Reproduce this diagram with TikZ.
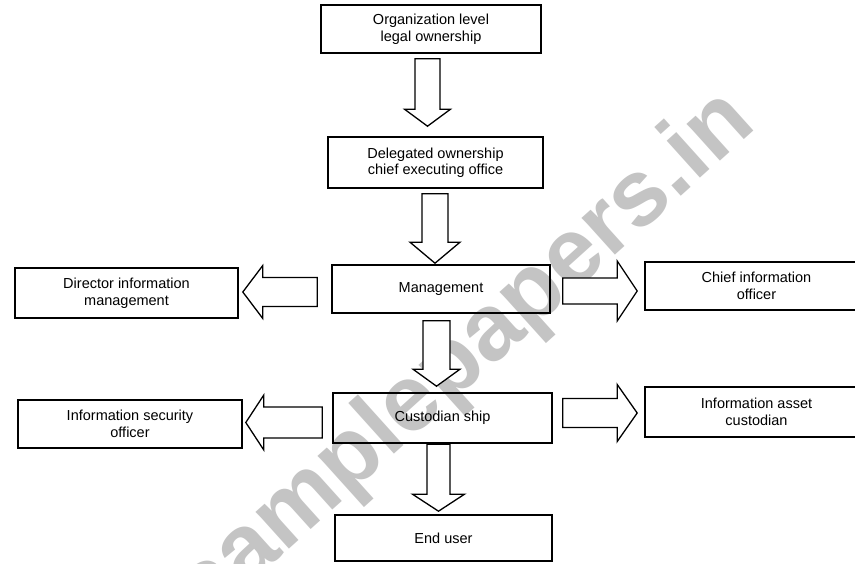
\documentclass[tikz,border=0pt]{standalone}
\usepackage{fontspec}
\setmainfont{Liberation Sans}
\usetikzlibrary{calc}
\definecolor{wmgray}{RGB}{196,196,196}
\tikzset{
  box/.style={draw, line width=1.6pt, inner sep=2pt, align=center,
    font=\fontsize{14.5}{16.5}\selectfont},
  blk/.style={draw, line width=1.3pt, fill=white, line join=miter},
  wmark/.style={text=wmgray, font=\fontsize{94}{94}\selectfont\bfseries, inner sep=0pt}
}
% #1 start, #2 end, #3 start gap, #4 tip gap, #5 head-base distance from end, #6 shaft half, #7 head half
\newcommand\blkarrow[7]{%
  \draw[blk] ($(#1)!#3!(#2)!#6!90:(#2)$) -- ($(#2)!#5!(#1)!#6!-90:(#1)$)
    -- ($(#2)!#5!(#1)!#7!-90:(#1)$) -- ($(#2)!#4!(#1)$)
    -- ($(#2)!#5!(#1)!#7!90:(#1)$) -- ($(#2)!#5!(#1)!#6!90:(#1)$)
    -- ($(#1)!#3!(#2)!#6!-90:(#2)$) -- cycle;}
\begin{document}
\begin{tikzpicture}[x=1pt,y=-1pt]
\clip (0,0) rectangle (855,563);
\fill[white] (0,0) rectangle (855,563);
\node[wmark, rotate=42] (wm) at (466,357) {samplepapers.in};

\node[box, minimum width=220pt, minimum height=48pt] (org) at (431,29) {Organization level\\legal ownership};
\node[box, minimum width=215pt, minimum height=51pt] (del) at (435.5,162.5) {Delegated ownership\\chief executing office};
\node[box, minimum width=218pt, minimum height=48pt] (mgmt) at (441,289) {Management};
\node[box, minimum width=219pt, minimum height=50pt] (cust) at (442.5,418) {Custodian ship};
\node[box, minimum width=217pt, minimum height=46pt] (end) at (443.5,538) {End user};
\node[box, minimum width=223pt, minimum height=50pt] (dir) at (126.5,293) {Director information\\management};
\node[box, minimum width=224pt, minimum height=48pt] (iso) at (130,424) {Information security\\officer};
\node[box, minimum width=223pt, minimum height=48pt] (cio) at (756.5,286) {Chief information\\officer};
\node[box, minimum width=223pt, minimum height=50pt] (iac) at (756.5,412) {Information asset\\custodian};

\coordinate (a1s) at ($(org.south)+(-3.5,0)$);
\coordinate (a1e) at (a1s |- del.north);
\coordinate (a2s) at ($(del.south)+(-0.5,0)$);
\coordinate (a2e) at (a2s |- mgmt.north);
\coordinate (a3s) at ($(mgmt.south)+(-4.5,0)$);
\coordinate (a3e) at (a3s |- cust.north);
\coordinate (a4s) at ($(cust.south)+(-4,0)$);
\coordinate (a4e) at (a4s |- end.north);
\coordinate (l1s) at ($(mgmt.west)+(0,3)$);
\coordinate (l1e) at (l1s -| dir.east);
\coordinate (l2s) at ($(cust.west)+(0,4.5)$);
\coordinate (l2e) at (l2s -| iso.east);
\coordinate (r1s) at ($(mgmt.east)+(0,2)$);
\coordinate (r1e) at (r1s -| cio.west);
\coordinate (r2s) at ($(cust.east)+(0,-5)$);
\coordinate (r2e) at (r2s -| iac.west);

\blkarrow{a1s}{a1e}{5pt}{10pt}{27pt}{12.5pt}{23pt}
\blkarrow{a2s}{a2e}{5pt}{1pt}{22pt}{13pt}{25pt}
\blkarrow{a3s}{a3e}{7pt}{6pt}{23pt}{13.5pt}{23.5pt}
\blkarrow{a4s}{a4e}{0.5pt}{3pt}{20pt}{11.5pt}{26pt}
\blkarrow{l1s}{l1e}{14pt}{4pt}{24pt}{14.5pt}{26.5pt}
\blkarrow{l2s}{l2e}{10pt}{3pt}{21pt}{15.5pt}{27.5pt}
\blkarrow{r1s}{r1e}{12pt}{7pt}{27pt}{13pt}{30pt}
\blkarrow{r2s}{r2e}{10pt}{7pt}{27pt}{14.5pt}{28.5pt}
\end{tikzpicture}
\end{document}
